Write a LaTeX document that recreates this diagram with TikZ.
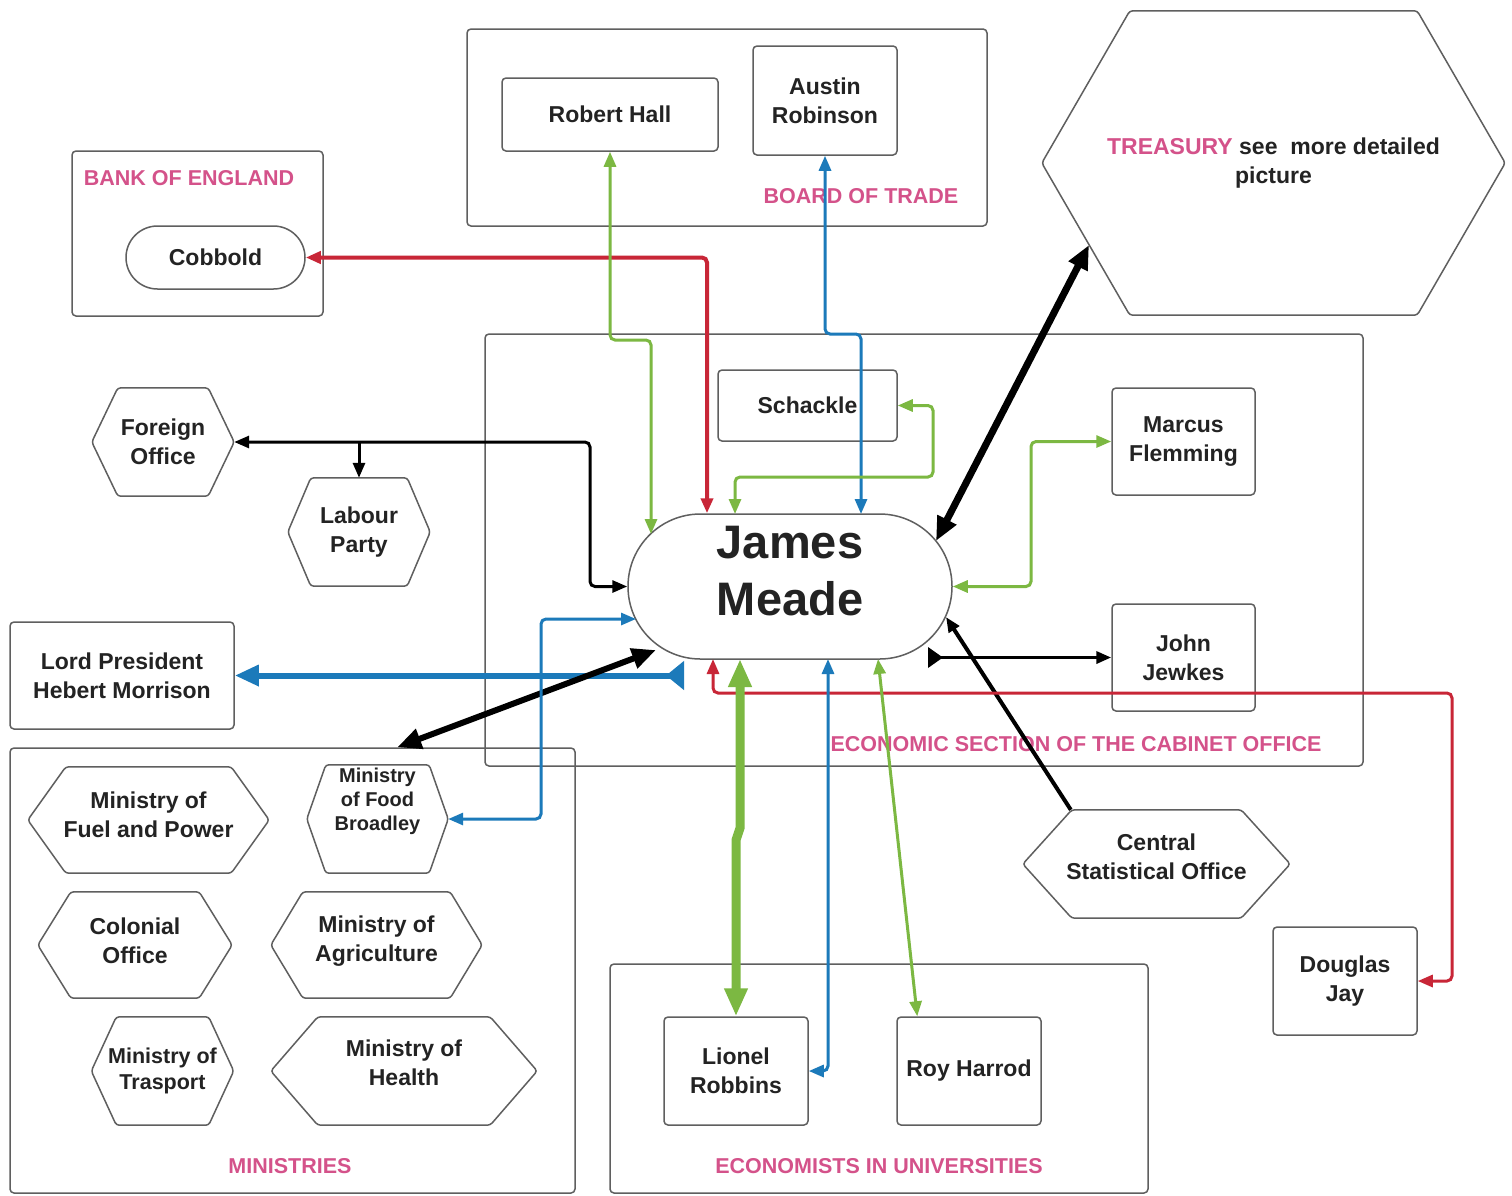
\documentclass[tikz,border=0pt]{standalone}
\usepackage{fontspec}
\setmainfont{Liberation Sans}
\usetikzlibrary{arrows.meta,shapes.misc,calc}
\definecolor{pinkc}{RGB}{212,82,138}
\definecolor{redc}{RGB}{200,38,55}
\definecolor{grnc}{RGB}{124,184,66}
\definecolor{bluc}{RGB}{28,122,186}
\definecolor{boxgray}{RGB}{95,95,95}
\definecolor{txtc}{RGB}{35,35,35}
\newcommand\fnm{\fontsize{23}{29}\selectfont\bfseries}
\newcommand\fbig{\fontsize{47}{57}\selectfont\bfseries}
\newcommand\flb{\fontsize{21.5}{26}\selectfont\bfseries}
\newcommand\fsm{\fontsize{20}{24}\selectfont\bfseries}
\newcommand\fsmb{\fontsize{21.5}{26}\selectfont\bfseries}
\newcommand\hexout[2]{%
  \draw[hexline] (#1.west) -- ([xshift=#2pt]#1.north west) -- ([xshift=-#2pt]#1.north east) -- (#1.east) -- ([xshift=-#2pt]#1.south east) -- ([xshift=#2pt]#1.south west) -- cycle;}
\tikzset{
  tA/.tip={Triangle[length=15pt,width=12pt]},
  tB/.tip={Triangle[length=24pt,width=20pt]},
  tC/.tip={Triangle[length=28pt,width=22pt]},
  tR/.tip={Triangle[reversed,length=15pt,width=20pt]},
  tRB/.tip={Triangle[reversed,length=18pt,width=28pt]},
  cont/.style={draw=boxgray, line width=1.5pt, rounded corners=4pt, inner sep=0pt},
  pbox/.style={draw=boxgray, line width=1.5pt, rounded corners=4pt, font=\fnm, text=txtc, align=center, inner sep=0pt},
  hexn/.style={font=\fnm, text=txtc, align=center, inner sep=0pt},
  hexline/.style={draw=boxgray, line width=1.5pt, rounded corners=3pt},
  stad/.style={rounded rectangle, draw=boxgray, line width=1.5pt, font=\fnm, text=txtc, align=center, inner sep=0pt},
  grp/.style={text=pinkc, font=\flb, inner sep=0pt},
  conn/.style={line width=3pt, rounded corners=5pt},
}
\begin{document}
\begin{tikzpicture}[x=1pt,y=-1pt]
\fill[white] (0,0) rectangle (1512,1195);
\useasboundingbox (0,0) rectangle (1512,1195);

% containers
\node[cont, minimum width=520pt, minimum height=197pt] (board) at (727,127.5) {};
\node[cont, minimum width=251pt, minimum height=165pt] (bank) at (197.5,233.5) {};
\node[cont, minimum width=878pt, minimum height=432pt] (econ) at (924,550) {};
\node[cont, minimum width=565pt, minimum height=445pt] (minsbox) at (292.5,970.5) {};
\node[cont, minimum width=538pt, minimum height=229pt] (univ) at (879,1078.5) {};

% group labels
\node[grp] (lbBoard) at (861,196) {BOARD OF TRADE};
\node[grp] (lbBank) at (189,178) {BANK OF ENGLAND};
\node[grp] (lbEcon) at (1076,744) {ECONOMIC SECTION OF THE CABINET OFFICE};
\node[grp] (lbMin) at (290,1166) {MINISTRIES};
\node[grp] (lbUni) at (879,1166) {ECONOMISTS IN UNIVERSITIES};

% people / boxes
\node[pbox, minimum width=216pt, minimum height=73pt] (hall) at (610,114.5) {Robert Hall};
\node[pbox, minimum width=144pt, minimum height=109pt] (aus) at (825,100.5) {Austin\\Robinson};
\node[stad, minimum width=179pt, minimum height=63pt] (cob) at (215.5,257.5) {Cobbold};
\node[pbox, minimum width=179pt, minimum height=71pt] (sch) at (807.5,405.5) {Schackle};
\node[pbox, minimum width=143pt, minimum height=107pt] (mf) at (1183.5,441.5) {Marcus\\Flemming};
\node[pbox, minimum width=143pt, minimum height=107pt] (jj) at (1183.5,657.5) {John\\Jewkes};
\node[pbox, minimum width=224pt, minimum height=107pt] (lp) at (122,675.5) {Lord President\\Hebert Morrison};
\node[pbox, minimum width=144pt, minimum height=108pt] (dj) at (1345,981) {Douglas\\Jay};
\node[pbox, minimum width=144pt, minimum height=108pt] (lr) at (736,1071) {Lionel\\Robbins};
\node[pbox, minimum width=144pt, minimum height=108pt] (rh) at (969,1071) {Roy Harrod};
\node[stad, minimum width=324pt, minimum height=145pt] (meade) at (790,586.5) {};
\node[hexn, font=\fbig] (meadet) at (790,571) {James\\Meade};

% hexagons
\node[hexn, minimum width=463pt, minimum height=304pt] (tre) at (1273.5,163) {\textcolor{pinkc}{TREASURY} see\ \ more detailed\\picture};
\hexout{tre}{88}
\node[hexn, minimum width=142pt, minimum height=108pt] (fo) at (163,442) {Foreign\\Office};
\hexout{fo}{26}
\node[hexn, minimum width=142pt, minimum height=108pt] (lab) at (359,532) {Labour\\Party};
\hexout{lab}{23}
\node[hexn, minimum width=241pt, minimum height=106pt] (fuel) at (148.5,820) {};
\hexout{fuel}{38}
\node[hexn] (fuelt) at (148.5,815) {Ministry of\\Fuel and Power};
\node[hexn, minimum width=141pt, minimum height=108pt] (food) at (377.5,819) {};
\hexout{food}{19}
\node[hexn, font=\fsm] (foodt) at (377.5,801) {Ministry\\of Food\\Broadley};
\node[hexn, minimum width=194pt, minimum height=106pt] (col) at (135,945) {};
\hexout{col}{33}
\node[hexn] (colt) at (135,941) {Colonial\\Office};
\node[hexn, minimum width=211pt, minimum height=106pt] (agr) at (376.5,945) {};
\hexout{agr}{32}
\node[hexn] (agrt) at (376.5,941) {Ministry of\\Agriculture};
\node[hexn, minimum width=142pt, minimum height=108pt, font=\fsmb] (tra) at (162.5,1071) {Ministry of\\Trasport};
\hexout{tra}{25}
\node[hexn, minimum width=266pt, minimum height=108pt] (hea) at (404,1071) {};
\hexout{hea}{47}
\node[hexn] (heat) at (404,1063) {Ministry of\\Health};
\node[hexn, minimum width=267pt, minimum height=108pt] (cso) at (1156.5,864) {};
\hexout{cso}{49}
\node[hexn] (csot) at (1156.5,857) {Central\\Statistical Office};

% helper coordinates on James Meade's border and bends
\coordinate (mA) at (651,534);
\coordinate (mC) at (735,514);
\coordinate (mD) at (861,514);
\coordinate (mE) at (936,541);
\coordinate (mG) at (928,657.5);
\coordinate (mH) at (946,617);
\coordinate (mI) at (713,659);
\coordinate (mJ) at (740,659);
\coordinate (mK) at (828,659);
\coordinate (mL) at (878,659);
\coordinate (mM) at (684,675.5);
\coordinate (mN) at (656,650);
\coordinate (mO) at (636,619);
\coordinate (rA) at (707,258);
\coordinate (gA) at (651,340);
\coordinate (bA) at (861,334);
\coordinate (sA) at (933,477);
\coordinate (tE) at (1089,245);
\coordinate (fA) at (1031,586.5);
\coordinate (dA) at (1452,693);
\coordinate (oA) at (541,619);
\coordinate (kA) at (590,442);
\coordinate (lA) at (736,840);
\coordinate (lB) at (740,828);

% connectors
\draw[conn, redc, line width=4pt, arrows={tA-tA}] (cob.east) -| (rA |- meade.north);
\draw[conn, grnc, arrows={tA-tA}] (hall.south) |- (gA) -- (mA);
\draw[conn, bluc, arrows={tA-tA}] (aus.south) |- (bA) -- (mD);
\draw[conn, grnc, arrows={tA-tA}] (sch.east) -| (sA) -| (mC);
\draw[line width=7pt, arrows={tB-tB}] (tE) -- (mE);
\draw[conn, grnc, arrows={tA-tA}] (mf.west) -| (fA) -- (meade.east);
\draw[line width=3.5pt, arrows={tR-tA}] (mG) -- (mG -| jj.west);
\draw[line width=4pt, arrows={-tA}] ([xshift=48pt]cso.north west) -- (mH);
\draw[conn, redc, arrows={tA-tA}] (dj.east) -| (dA) -| (mI);
\draw[grnc, line width=9pt, arrows={tC-tC}] (lr.north) -- (lA) -- (lB) -- (mJ);
\draw[conn, bluc, arrows={tA-tA}] (mK) |- (lr.east);
\draw[grnc, line width=3pt, arrows={tA-tA}] (mL) -- ([xshift=21pt]rh.north west);
\draw[bluc, line width=6pt, arrows={tB-tRB}] (lp.east) -- (mM);
\draw[line width=6pt, arrows={tB-tB}] ([xshift=388pt]minsbox.north west) -- (mN);
\draw[conn, bluc, arrows={tA-tA}] (food.east) -| (oA) -- (mO);
\draw[conn, black, arrows={tA-tA}] (meade.west) -| (kA) -- (fo.east);
\draw[conn, black, arrows={-tA}] (lab.north |- fo.east) -- (lab.north);
\end{tikzpicture}
\end{document}
